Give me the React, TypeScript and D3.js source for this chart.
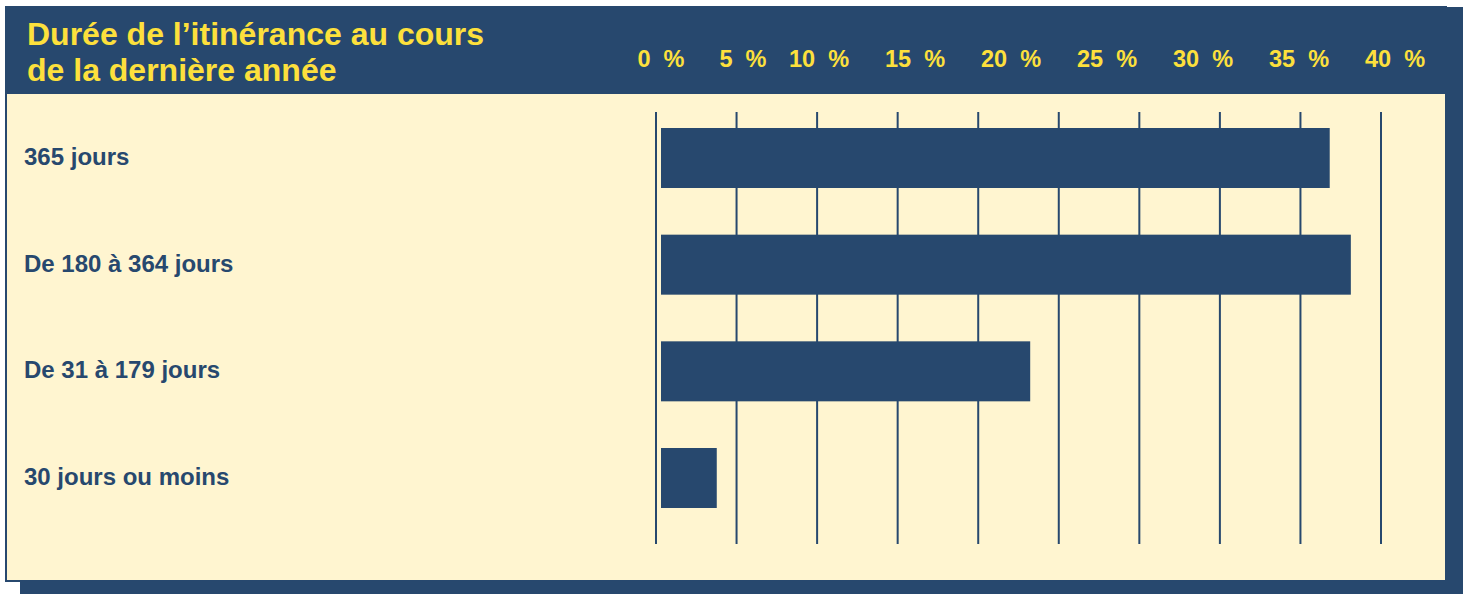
import React, { useEffect, useRef } from "react";
import * as d3 from "d3";

// values (share of respondents, %)
const categories = [
  "365 jours",
  "De 180 à 364 jours",
  "De 31 à 179 jours",
  "30 jours ou moins",
];
const shares = [36.6, 37.7, 21.0, 3.4];
const tickValues = [0, 5, 10, 15, 20, 25, 30, 35, 40];
const titleLines = ["Durée de l’itinérance au cours", "de la dernière année"];
const gridCount = 10;

const DARK = "#27486e";
const CREAM = "#fff5d0";
const YELLOW = "#fde03c";
const FONT = "'Liberation Sans', Arial, Helvetica, sans-serif";

const App = () => {
  const svgRef = useRef<SVGSVGElement>(null);

  useEffect(() => {
    const width = 1467;
    const height = 594;

    d3.select(svgRef.current).selectAll("*").remove();

    const svg = d3
      .select(svgRef.current)
      .attr("width", width)
      .attr("height", height)
      .style("font-family", FONT);

    // drop shadow + panel
    svg.append("rect").attr("x", 20).attr("y", 20).attr("width", 1443).attr("height", 574).attr("fill", DARK);
    svg
      .append("rect")
      .attr("x", 6)
      .attr("y", 7)
      .attr("width", 1440)
      .attr("height", 574)
      .attr("fill", CREAM)
      .attr("stroke", DARK)
      .attr("stroke-width", 2);
    svg.append("rect").attr("x", 5).attr("y", 7).attr("width", 1458).attr("height", 87).attr("fill", DARK);

    // title
    svg
      .append("g")
      .selectAll("text")
      .data(titleLines)
      .enter()
      .append("text")
      .attr("x", 27)
      .attr("y", (d, i) => 45 + i * 36)
      .attr("fill", YELLOW)
      .attr("font-weight", "bold")
      .attr("font-size", 32)
      .text((d) => d);

    // the printed axis is not evenly spaced, so the scale is piecewise
    const x = d3.scaleLinear().domain([0, 5, 10, 40]).range([661, 743, 819, 1395]);

    const grid = d3.scaleLinear().domain([0, gridCount - 1]).range([656, 1381]);

    const y = d3
      .scaleBand()
      .domain(categories)
      .range([128, 508])
      .paddingInner(0.4375)
      .paddingOuter(0);

    svg
      .append("g")
      .selectAll("text")
      .data(tickValues)
      .enter()
      .append("text")
      .attr("x", (d) => x(d))
      .attr("y", 67)
      .attr("text-anchor", "middle")
      .attr("fill", YELLOW)
      .attr("font-weight", "bold")
      .attr("font-size", 23.5)
      .text((d) => `${d}\u00a0\u00a0%`);

    svg
      .append("g")
      .selectAll("line")
      .data(d3.range(gridCount))
      .enter()
      .append("line")
      .attr("x1", (d) => grid(d))
      .attr("x2", (d) => grid(d))
      .attr("y1", 112)
      .attr("y2", 544)
      .attr("stroke", DARK)
      .attr("stroke-width", 2);

    svg
      .append("g")
      .selectAll("rect")
      .data(shares)
      .enter()
      .append("rect")
      .attr("x", x(0))
      .attr("y", (d, i) => y(categories[i]))
      .attr("width", (d) => x(d) - x(0))
      .attr("height", y.bandwidth())
      .attr("fill", DARK);

    svg
      .append("g")
      .selectAll("text")
      .data(categories)
      .enter()
      .append("text")
      .attr("x", 24)
      .attr("y", (d) => y(d) + y.bandwidth() / 2 + 7)
      .attr("fill", DARK)
      .attr("font-weight", "bold")
      .attr("font-size", 24)
      .text((d) => d);
  }, []);

  return <svg ref={svgRef} style={{ position: "absolute", left: 0, top: 0 }}></svg>;
};

export default App;
